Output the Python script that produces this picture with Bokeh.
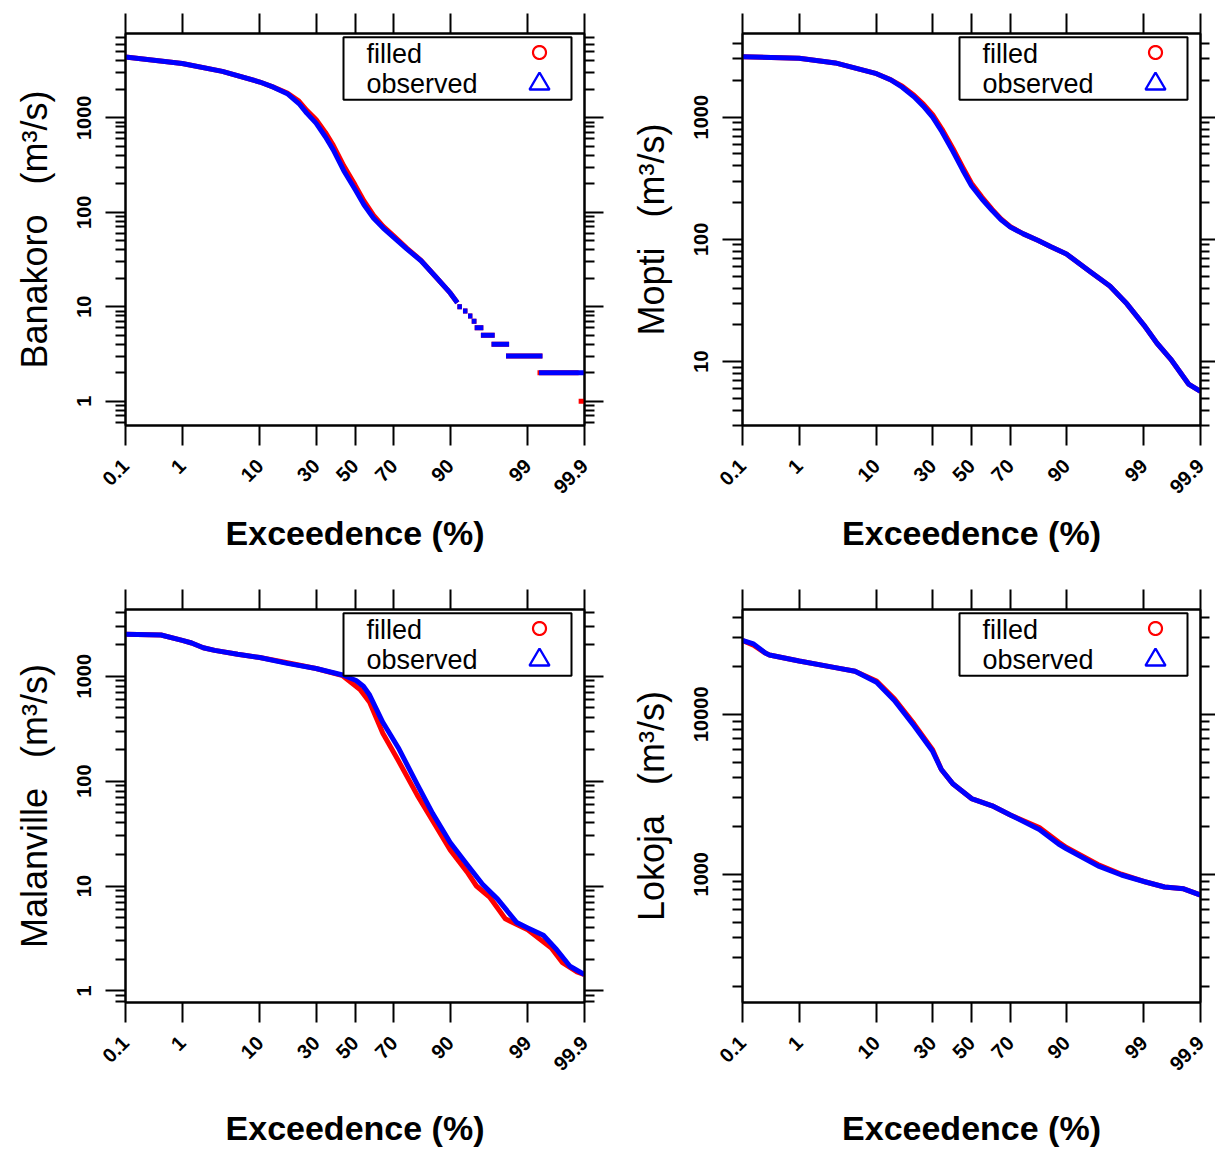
import math
from statistics import NormalDist
from bokeh.plotting import figure
from bokeh.models import (Range1d, FixedTicker, LinearAxis, LogAxis, CustomJSTickFormatter,
                          BoxAnnotation, Label, PolyAnnotation)
from bokeh.layouts import column, row
from bokeh.embed import file_html
from bokeh.resources import INLINE

# ---------------- data ----------------
x_tick_pct = [0.1, 1, 10, 30, 50, 70, 90, 99, 99.9]
x_tick_labels = ["0.1", "1", "10", "30", "50", "70", "90", "99", "99.9"]

# Banakoro
ban_obs_pct = [0.1, 1, 3.7, 10, 13.6, 18.1, 22.5, 25.8, 30, 34.5, 38.5, 44, 50, 54.8, 59.8, 64.8,
               70, 75.8, 81.3, 86, 90, 91.6]
ban_obs_q = [4400, 3760, 3100, 2390, 2110, 1800, 1415, 1120, 878, 630, 457, 275, 175, 120, 87, 68,
             54, 40.7, 30.7, 21, 14, 11]
ban_fil_pct = ban_obs_pct
ban_fil_q = [4400, 3760, 3100, 2390, 2110, 1830, 1500, 1200, 960, 700, 510, 310, 195, 132, 93, 71,
             56, 41.5, 31, 21, 14, 11]
ban_obs_step_q = [10, 9, 8, 7, 6, 5, 4, 3, 2]
ban_obs_step_from = [91.6, 92.7, 93.6, 94.2, 94.65, 95.5, 96.7, 97.9, 99.34]
ban_obs_step_to = [92.5, 93.5, 94.3, 94.9, 95.8, 97.0, 98.1, 99.42, 99.9]
ban_fil_step_q = [10, 9, 8, 7, 6, 5, 4, 3, 2, 1]
ban_fil_step_from = [91.6, 92.7, 93.6, 94.2, 94.65, 95.5, 96.7, 97.9, 99.30, 99.87]
ban_fil_step_to = [92.5, 93.5, 94.3, 94.9, 95.8, 97.0, 98.1, 99.42, 99.87, 99.9]

# Mopti
mop_obs_pct = [0.1, 1, 3.3, 10, 13.7, 17.5, 21.9, 25.8, 30, 34.5, 40.1, 45.2, 50, 55.6, 61, 65.5,
               70, 75.8, 81.6, 85.8, 90, 94.5, 96.9, 98.2, 99, 99.38, 99.64, 99.83, 99.9]
mop_obs_q = [3130, 3035, 2780, 2270, 2027, 1758, 1467, 1230, 1000, 760, 525, 372, 275, 214, 172,
             145, 126, 111, 98, 87, 76, 54.5, 41.6, 29.7, 19.9, 14.2, 10.5, 6.55, 5.7]
mop_fil_pct = mop_obs_pct
mop_fil_q = [3130, 3035, 2780, 2270, 2030, 1790, 1510, 1280, 1050, 800, 555, 392, 288, 222, 176,
             147, 127, 111, 98, 87, 76, 54.5, 41.6, 29.7, 19.9, 14.2, 10.5, 6.55, 5.7]

# Malanville
mal_obs_pct = [0.1, 0.45, 1, 1.39, 2.05, 2.94, 5.7, 10, 18.1, 30, 43.4, 50.6, 54.5, 57.8, 64.6, 72,
               79.9, 85.2, 90, 93.4, 95.7, 97.26, 98.53, 99, 99.44, 99.67, 99.81, 99.9]
mal_obs_q = [2506, 2466, 2190, 2070, 1865, 1760, 1614, 1503, 1322, 1183, 1024, 908, 800, 660, 363,
             208, 93, 49.2, 26, 16.1, 10.4, 7.5, 4.48, 3.98, 3.39, 2.47, 1.72, 1.43]
mal_fil_pct = [0.1, 0.45, 1, 1.39, 2.05, 2.94, 5.7, 10, 18.1, 30, 43.4, 52.7, 57.8, 64.6, 72,
               79.9, 85.2, 90, 93.4, 94.9, 96.5, 97.85, 99, 99.59, 99.74, 99.86, 99.9]
mal_fil_q = [2506, 2466, 2190, 2070, 1865, 1760, 1614, 1503, 1340, 1183, 1010, 745, 563, 285, 157,
             73.5, 42, 22.1, 13.7, 10, 7.85, 4.87, 3.82, 2.57, 1.86, 1.52, 1.43]

# Lokoja
lok_obs_pct = [0.1, 0.163, 0.27, 0.32, 1, 3.3, 5.8, 10, 14.9, 21.9, 30, 34.2, 40.2, 50, 61, 70,
               82, 88, 90, 95.6, 97.85, 99, 99.54, 99.79, 99.9]
lok_obs_q = [28900, 27500, 24100, 23450, 21480, 19540, 18540, 15850, 12200, 8460, 5860, 4515, 3660,
             2970, 2675, 2345, 1905, 1545, 1443, 1128, 989, 901, 832, 811, 741]
lok_fil_pct = lok_obs_pct
lok_fil_q = [28900, 27000, 24100, 23450, 21480, 19540, 18540, 16100, 12500, 8700, 6000, 4515, 3660,
             2970, 2675, 2345, 1960, 1590, 1470, 1150, 1000, 901, 832, 811, 741]

stations = ["Banakoro", "Mopti", "Malanville", "Lokoja"]
y_limits = [(0.553, 7800), (3.0, 4840), (0.776, 4315), (158, 45100)]
y_major = [[1, 10, 100, 1000], [10, 100, 1000], [1, 10, 100, 1000], [1000, 10000]]

RED = "#FF0000"
BLUE = "#0000FF"
FONT = "Liberation Sans"

ND = NormalDist()


def probit(pcts):
    return [ND.inv_cdf(v / 100.0) for v in pcts]


x_tick_z = probit(x_tick_pct)
blank = CustomJSTickFormatter(code="return '';")


def minor_for(lo, hi):
    out = []
    for k in range(-2, 6):
        for m in range(2, 10):
            v = m * 10 ** k
            if lo <= v <= hi:
                out.append(v)
    return out


def style_axis(ax):
    ax.axis_line_width = 2
    ax.axis_line_color = "black"
    ax.major_tick_line_width = 2
    ax.minor_tick_line_width = 2
    ax.major_tick_line_color = "black"
    ax.minor_tick_line_color = "black"
    ax.major_tick_in = 0
    ax.minor_tick_in = 0


def make_panel(idx, width, height, b_left, b_right, b_top, b_bottom, right_major, right_minor,
               xlab_standoff):
    lo, hi = y_limits[idx]
    p = figure(width=width, height=height,
               x_range=Range1d(probit([0.1])[0], probit([99.9])[0]),
               y_range=Range1d(lo, hi), y_axis_type="log",
               output_backend="svg", toolbar_location=None,
               min_border_left=b_left, min_border_right=b_right,
               min_border_top=b_top, min_border_bottom=b_bottom)
    p.xgrid.visible = False
    p.ygrid.visible = False
    p.outline_line_color = "black"
    p.outline_line_width = 2
    p.background_fill_color = "white"
    p.border_fill_color = "white"

    xt = FixedTicker(ticks=x_tick_z, minor_ticks=[])
    yt = FixedTicker(ticks=y_major[idx], minor_ticks=minor_for(lo, hi))

    xfmt = CustomJSTickFormatter(args=dict(zs=x_tick_z, labels=x_tick_labels), code="""
        let best = 0;
        for (let i = 0; i < zs.length; i++) {
            if (Math.abs(zs[i] - tick) < Math.abs(zs[best] - tick)) best = i;
        }
        return labels[best];
    """)
    yfmt = CustomJSTickFormatter(code="return String(Math.round(tick));")

    # bottom axis
    xa = p.xaxis[0]
    xa.ticker = xt
    xa.formatter = xfmt
    style_axis(xa)
    xa.major_tick_out = 20
    xa.minor_tick_out = 0
    xa.major_label_orientation = math.pi / 4
    xa.major_label_standoff = 17
    xa.major_label_text_font = FONT
    xa.major_label_text_font_style = "bold"
    xa.major_label_text_font_size = "20px"
    xa.major_label_text_color = "black"
    xa.axis_label = "Exceedence (%)"
    xa.axis_label_text_font = FONT
    xa.axis_label_text_font_style = "bold"
    xa.axis_label_text_font_size = "34px"
    xa.axis_label_text_color = "black"
    xa.axis_label_standoff = xlab_standoff

    # left axis
    ya = p.yaxis[0]
    ya.ticker = yt
    ya.formatter = yfmt
    style_axis(ya)
    ya.major_tick_out = 20
    ya.minor_tick_out = 10
    ya.major_label_orientation = "vertical"
    ya.major_label_standoff = 14
    ya.major_label_text_font = FONT
    ya.major_label_text_font_style = "bold"
    ya.major_label_text_font_size = "20px"
    ya.major_label_text_color = "black"
    ya.axis_label = stations[idx] + "\u00a0\u00a0\u00a0(m\u00b3/s)"
    ya.axis_label_text_font = FONT
    ya.axis_label_text_font_style = "normal"
    ya.axis_label_text_font_size = "36px"
    ya.axis_label_text_color = "black"
    ya.axis_label_standoff = 20

    # top axis
    ta = LinearAxis(ticker=xt, formatter=blank)
    style_axis(ta)
    ta.major_tick_out = 20
    ta.minor_tick_out = 0
    ta.major_label_standoff = 0
    ta.major_label_text_font_size = "0px"
    p.add_layout(ta, "above")

    # right axis
    ra = LogAxis(ticker=yt, formatter=blank)
    style_axis(ra)
    ra.major_tick_out = right_major
    ra.minor_tick_out = right_minor
    ra.major_label_standoff = 0
    ra.major_label_text_font_size = "0px"
    p.add_layout(ra, "right")

    # legend (manual, label left / symbol right)
    W = width - b_left - b_right
    H = height - b_top - b_bottom
    p.add_layout(BoxAnnotation(left=W - 241, right=W - 13, top=H - 3.7, bottom=H - 66.3,
                               left_units="screen", right_units="screen",
                               top_units="screen", bottom_units="screen",
                               fill_color="white", fill_alpha=1.0,
                               line_color="black", line_width=2, line_alpha=1.0,
                               level="overlay"))
    for txt, base in (("filled", 20.5), ("observed", 50.0)):
        p.add_layout(Label(x=W - 218, y=H - base, x_units="screen", y_units="screen",
                           text=txt, text_font=FONT, text_font_size="27px",
                           text_color="black", text_baseline="alphabetic",
                           text_align="left", level="overlay"))
    cx, cy, r = W - 45, H - 19, 6.5
    n = 40
    p.add_layout(PolyAnnotation(xs=[cx + r * math.cos(2 * math.pi * i / n) for i in range(n)],
                                ys=[cy + r * math.sin(2 * math.pi * i / n) for i in range(n)],
                                xs_units="screen", ys_units="screen",
                                fill_alpha=0, line_color=RED, line_alpha=1.0, line_width=2.2,
                                level="overlay"))
    tx, ty = W - 45, H - 47.5
    p.add_layout(PolyAnnotation(xs=[tx - 10, tx + 10, tx], ys=[ty - 8.5, ty - 8.5, ty + 8.5],
                                xs_units="screen", ys_units="screen",
                                fill_alpha=0, line_color=BLUE, line_alpha=1.0, line_width=2.4,
                                level="overlay"))
    return p


LW = 5
LJ = "round"

# Panel 1: Banakoro
p1 = make_panel(0, 617, 584, 125, 33, 33, 159, 19, 10, 11)
p1.line(probit(ban_fil_pct), ban_fil_q, line_color=RED, line_width=LW, line_join=LJ)
p1.segment(x0=probit(ban_fil_step_from), y0=ban_fil_step_q, x1=probit(ban_fil_step_to),
           y1=ban_fil_step_q, line_color=RED, line_width=LW)
p1.line(probit(ban_obs_pct), ban_obs_q, line_color=BLUE, line_width=LW, line_join=LJ)
p1.segment(x0=probit(ban_obs_step_from), y0=ban_obs_step_q, x1=probit(ban_obs_step_to),
           y1=ban_obs_step_q, line_color=BLUE, line_width=LW)

# Panel 2: Mopti
p2 = make_panel(1, 598, 584, 125, 15, 33, 159, 15, 9, 11)
p2.line(probit(mop_fil_pct), mop_fil_q, line_color=RED, line_width=LW, line_join=LJ)
p2.line(probit(mop_obs_pct), mop_obs_q, line_color=BLUE, line_width=LW, line_join=LJ)

# Panel 3: Malanville
p3 = make_panel(2, 617, 567, 125, 33, 25, 149, 19, 10, 29)
p3.line(probit(mal_fil_pct), mal_fil_q, line_color=RED, line_width=LW, line_join=LJ)
p3.line(probit(mal_obs_pct), mal_obs_q, line_color=BLUE, line_width=LW, line_join=LJ)

# Panel 4: Lokoja
p4 = make_panel(3, 598, 567, 125, 15, 25, 149, 15, 9, 29)
p4.line(probit(lok_fil_pct), lok_fil_q, line_color=RED, line_width=LW, line_join=LJ)
p4.line(probit(lok_obs_pct), lok_obs_q, line_color=BLUE, line_width=LW, line_join=LJ)

layout = column(row(p1, p2), row(p3, p4))
open("out.html", "w").write(file_html(layout, INLINE))
